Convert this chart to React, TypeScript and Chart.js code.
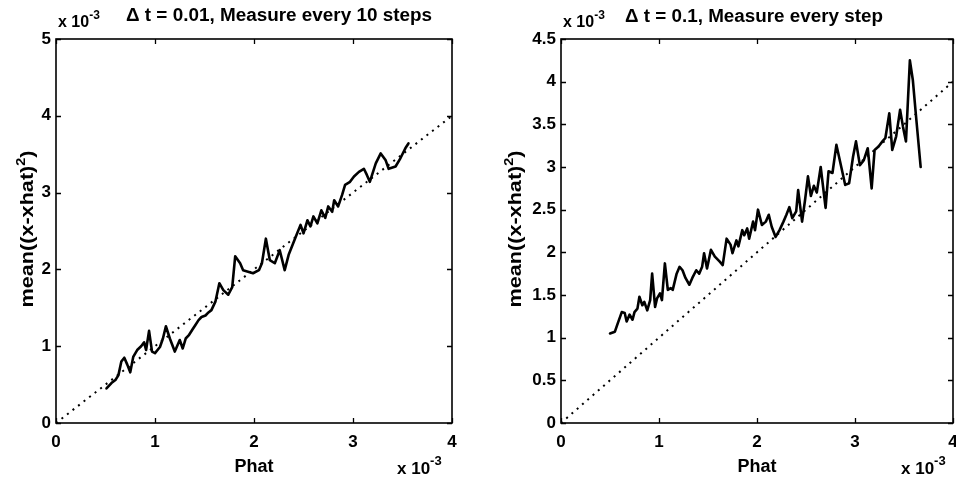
import React, { useEffect, useRef } from "react";
import { Chart, registerables } from "chart.js";

Chart.register(...registerables);

// ---------------- data ----------------
const xTicks = [0, 1, 2, 3, 4];
const leftYTicks = [0, 1, 2, 3, 4, 5];
const rightYTicks = [0, 0.5, 1, 1.5, 2, 2.5, 3, 3.5, 4, 4.5];

const refLineX = [0, 4];
const refLineY = [0, 4];

const leftPhat = [
  0.51, 0.56, 0.6, 0.63, 0.66, 0.69, 0.72, 0.75, 0.78, 0.82, 0.86, 0.89, 0.91, 0.94, 0.97, 1.0,
  1.05, 1.08, 1.11, 1.15, 1.2, 1.25, 1.28, 1.31, 1.34, 1.38, 1.41, 1.44, 1.47, 1.51, 1.54, 1.57,
  1.61, 1.65, 1.69, 1.74, 1.78, 1.81, 1.86, 1.89, 1.94, 1.99, 2.05, 2.08, 2.12, 2.16, 2.21, 2.26,
  2.31, 2.35, 2.39, 2.43, 2.47, 2.5, 2.54, 2.57, 2.6, 2.64, 2.68, 2.72, 2.75, 2.79, 2.81, 2.85,
  2.89, 2.92, 2.97, 3.01, 3.06, 3.11, 3.14, 3.17, 3.23, 3.28, 3.33, 3.36, 3.43, 3.48, 3.53, 3.56,
];
const leftMse = [
  0.45, 0.52, 0.56, 0.62, 0.8, 0.85, 0.76, 0.66, 0.86, 0.95, 1.0, 1.05, 0.95, 1.2, 0.93, 0.91,
  0.99, 1.1, 1.26, 1.1, 0.93, 1.08, 0.97, 1.1, 1.14, 1.22, 1.28, 1.34, 1.38, 1.4, 1.44, 1.47,
  1.58, 1.82, 1.73, 1.67, 1.77, 2.17, 2.08, 1.99, 1.97, 1.95, 1.99, 2.08, 2.4, 2.12, 2.08, 2.25,
  1.99, 2.19, 2.32, 2.45, 2.58, 2.47, 2.64, 2.56, 2.69, 2.6, 2.77, 2.67, 2.82, 2.75, 2.9, 2.82,
  2.97, 3.1, 3.14, 3.21, 3.27, 3.31, 3.23, 3.14, 3.38, 3.51, 3.42, 3.31, 3.34, 3.45, 3.58, 3.64,
];

const rightPhat = [
  0.5, 0.55, 0.58, 0.62, 0.65, 0.67, 0.7, 0.73, 0.75, 0.78, 0.8, 0.83, 0.85, 0.88, 0.91, 0.93,
  0.96, 0.98, 1.01, 1.03, 1.06, 1.09, 1.12, 1.14, 1.18, 1.21, 1.24, 1.27, 1.31, 1.34, 1.38, 1.41,
  1.44, 1.46, 1.49, 1.53, 1.57, 1.62, 1.65, 1.69, 1.73, 1.75, 1.79, 1.81, 1.85, 1.87, 1.9, 1.92,
  1.96, 1.98, 2.01, 2.05, 2.09, 2.12, 2.15, 2.19, 2.23, 2.27, 2.3, 2.33, 2.36, 2.4, 2.42, 2.46,
  2.49, 2.52, 2.55, 2.58, 2.61, 2.65, 2.7, 2.73, 2.77, 2.81, 2.86, 2.9, 2.94, 2.98, 3.01, 3.05,
  3.09, 3.13, 3.17, 3.2, 3.24, 3.28, 3.31, 3.35, 3.38, 3.42, 3.46, 3.49, 3.52, 3.56, 3.59, 3.62,
  3.67,
];
const rightMse = [
  1.05, 1.07, 1.17, 1.3, 1.29, 1.19, 1.27, 1.21, 1.3, 1.34, 1.48, 1.38, 1.42, 1.32, 1.44, 1.75,
  1.36, 1.46, 1.52, 1.44, 1.87, 1.56, 1.58, 1.56, 1.75, 1.83, 1.79, 1.7, 1.62, 1.7, 1.79, 1.75,
  1.83, 1.99, 1.81, 2.03, 1.95, 1.89, 1.85, 2.16, 2.09, 1.99, 2.14, 2.07, 2.26, 2.2, 2.28, 2.16,
  2.36, 2.26, 2.5, 2.32, 2.36, 2.44, 2.3, 2.18, 2.26, 2.36, 2.44, 2.53, 2.4, 2.48, 2.73, 2.36,
  2.61, 2.89, 2.66, 2.78, 2.7, 3.0, 2.52, 2.95, 2.93, 3.26, 3.0, 2.79, 2.81, 3.12, 3.3, 3.02,
  3.08, 3.22, 2.75, 3.2, 3.24, 3.3, 3.34, 3.63, 3.2, 3.36, 3.67, 3.47, 3.3, 4.25, 4.02, 3.63,
  3.0,
];

const leftTitle = "\u0394 t = 0.01, Measure every 10 steps";
const rightTitle = "\u0394 t = 0.1, Measure every step";
const xLabel = "Phat";
const yLabelParts = ["mean((x-xhat)", "2", ")"];
const expBase = "x 10";
const expPower = "-3";

// ---------------- helpers ----------------
const FONT = "'Liberation Sans', Arial, Helvetica, sans-serif";

type Part = { text: string; size: number; dy: number };

function drawRich(
  ctx: CanvasRenderingContext2D,
  parts: Part[],
  x: number,
  y: number,
  align: "left" | "center",
  targetWidth?: number,
  rotate?: boolean
) {
  ctx.save();
  ctx.fillStyle = "#000";
  ctx.textBaseline = "alphabetic";
  ctx.textAlign = "left";
  const widths = parts.map((p) => {
    ctx.font = `bold ${p.size}px ${FONT}`;
    return ctx.measureText(p.text).width;
  });
  const total = widths.reduce((a, b) => a + b, 0);
  const sx = targetWidth ? targetWidth / total : 1;
  ctx.translate(x, y);
  if (rotate) ctx.rotate(-Math.PI / 2);
  ctx.scale(sx, 1);
  let cx = align === "center" ? -total / 2 : 0;
  parts.forEach((p, i) => {
    ctx.font = `bold ${p.size}px ${FONT}`;
    ctx.fillText(p.text, cx, p.dy);
    cx += widths[i];
  });
  ctx.restore();
}

type Side = {
  yTicks: number[];
  yMax: number;
  phat: number[];
  mse: number[];
  title: string;
  titleX: number;
  titleY: number;
  titleW: number;
  yAxisWidth: number;
  padRight: number;
  expTopX: number;
  expBottomX: number;
  yLabelX: number;
};

const makePlugins = (s: Side) => [
  {
    id: "frame",
    afterDatasetsDraw(chart: any) {
      const { ctx, chartArea: a, scales } = chart;
      ctx.save();
      ctx.strokeStyle = "#000";
      ctx.lineWidth = 1.6;
      ctx.strokeRect(a.left, a.top, a.right - a.left, a.bottom - a.top);
      ctx.lineWidth = 1.3;
      const L = 5;
      ctx.beginPath();
      scales.x.ticks.forEach((t: any) => {
        const px = Math.round(scales.x.getPixelForValue(t.value)) + 0.5;
        ctx.moveTo(px, a.bottom);
        ctx.lineTo(px, a.bottom - L);
        ctx.moveTo(px, a.top);
        ctx.lineTo(px, a.top + L);
      });
      scales.y.ticks.forEach((t: any) => {
        const py = Math.round(scales.y.getPixelForValue(t.value)) + 0.5;
        ctx.moveTo(a.left, py);
        ctx.lineTo(a.left + L, py);
        ctx.moveTo(a.right, py);
        ctx.lineTo(a.right - L, py);
      });
      ctx.stroke();
      ctx.restore();
    },
    afterDraw(chart: any) {
      const { ctx, chartArea: a } = chart;
      drawRich(ctx, [{ text: s.title, size: 18, dy: 0 }], s.titleX, s.titleY, "left", s.titleW);
      drawRich(
        ctx,
        [
          { text: expBase, size: 16, dy: 0 },
          { text: expPower, size: 12, dy: -8 },
        ],
        s.expTopX,
        27,
        "left"
      );
      drawRich(ctx, [{ text: xLabel, size: 18, dy: 0 }], (a.left + a.right) / 2, 472, "center");
      drawRich(
        ctx,
        [
          { text: expBase, size: 17, dy: 0 },
          { text: expPower, size: 13, dy: -9 },
        ],
        s.expBottomX,
        474,
        "left"
      );
      drawRich(
        ctx,
        [
          { text: yLabelParts[0], size: 18, dy: 0 },
          { text: yLabelParts[1], size: 12, dy: -8 },
          { text: yLabelParts[2], size: 18, dy: 0 },
        ],
        s.yLabelX,
        (a.top + a.bottom) / 2 - 2,
        "center",
        157,
        true
      );
    },
  },
];

const makeConfig = (s: Side): any => ({
  type: "scatter",
  data: {
    datasets: [
      {
        data: refLineX.map((x, i) => ({ x, y: refLineY[i] })),
        showLine: true,
        borderColor: "#000",
        borderWidth: 2,
        borderDash: [2, 5],
        pointRadius: 0,
      },
      {
        data: s.phat.map((x, i) => ({ x, y: s.mse[i] })),
        showLine: true,
        borderColor: "#000",
        borderWidth: 2.6,
        borderJoinStyle: "round",
        borderCapStyle: "round",
        pointRadius: 0,
        tension: 0,
      },
    ],
  },
  options: {
    responsive: false,
    animation: false,
    events: [],
    layout: { padding: { top: 39, right: s.padRight, left: 0, bottom: 0 } },
    plugins: { legend: { display: false }, tooltip: { enabled: false }, title: { display: false } },
    scales: {
      x: {
        type: "linear",
        min: 0,
        max: 4,
        border: { display: false },
        grid: { display: false, drawTicks: false },
        afterBuildTicks: (sc: any) => {
          sc.ticks = xTicks.map((v) => ({ value: v }));
        },
        afterFit: (sc: any) => {
          sc.height = 63;
          sc.paddingLeft = 0;
          sc.paddingRight = 0;
        },
        ticks: {
          color: "#000",
          padding: 9,
          maxRotation: 0,
          autoSkip: false,
          callback: (v: any) => String(v),
          font: { family: FONT, size: 17, weight: "bold" },
        },
      },
      y: {
        type: "linear",
        min: 0,
        max: s.yMax,
        border: { display: false },
        grid: { display: false, drawTicks: false },
        afterBuildTicks: (sc: any) => {
          sc.ticks = s.yTicks.map((v) => ({ value: v }));
        },
        afterFit: (sc: any) => {
          sc.width = s.yAxisWidth;
          sc.paddingTop = 0;
          sc.paddingBottom = 0;
        },
        ticks: {
          color: "#000",
          padding: 5,
          autoSkip: false,
          callback: (v: any) => String(v),
          font: { family: FONT, size: 17, weight: "bold" },
        },
      },
    },
  },
  plugins: makePlugins(s),
});

const leftSide: Side = {
  yTicks: leftYTicks,
  yMax: 5,
  phat: leftPhat,
  mse: leftMse,
  title: leftTitle,
  titleX: 126,
  titleY: 21,
  titleW: 306,
  yAxisWidth: 56,
  padRight: 26,
  expTopX: 58,
  expBottomX: 397,
  yLabelX: 33,
};

const rightSide: Side = {
  yTicks: rightYTicks,
  yMax: 4.5,
  phat: rightPhat,
  mse: rightMse,
  title: rightTitle,
  titleX: 147,
  titleY: 22,
  titleW: 258,
  yAxisWidth: 83,
  padRight: 3,
  expTopX: 85,
  expBottomX: 423,
  yLabelX: 43,
};

function Panel({ side, left }: { side: Side; left: number }) {
  const ref = useRef<HTMLCanvasElement | null>(null);
  useEffect(() => {
    if (!ref.current) return;
    const chart = new Chart(ref.current, makeConfig(side));
    return () => chart.destroy();
  }, [side]);
  return (
    <canvas
      ref={ref}
      width={478}
      height={486}
      style={{ position: "absolute", left, top: 0, width: 478, height: 486 }}
    />
  );
}

export default function App() {
  return (
    <div
      style={{
        position: "fixed",
        left: 0,
        top: 0,
        width: 956,
        height: 486,
        background: "#fff",
        overflow: "hidden",
      }}
    >
      <Panel side={leftSide} left={0} />
      <Panel side={rightSide} left={478} />
    </div>
  );
}
